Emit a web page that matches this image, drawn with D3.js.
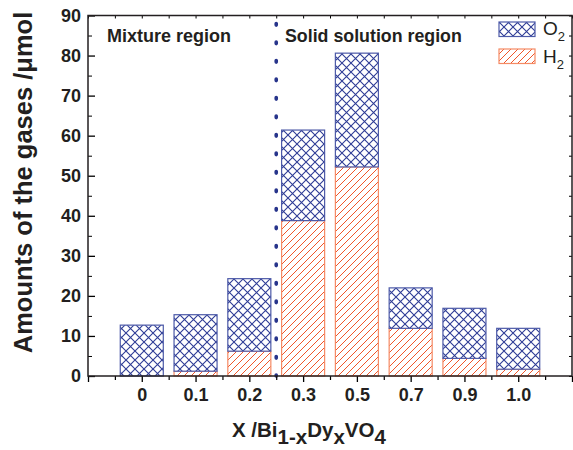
<!DOCTYPE html>
<html>
<head>
<meta charset="utf-8">
<script src="https://cdn.jsdelivr.net/npm/d3@7"></script>
<style>
  html, body { margin: 0; padding: 0; background: #fff; }
  svg { display: block; }
  text { font-family: "Liberation Sans", Arial, Helvetica, sans-serif; fill: #231f20; }
</style>
</head>
<body>
<svg id="chart" width="573" height="450"></svg>
<script>
// ---- data ----
const categories = ["0", "0.1", "0.2", "0.3", "0.5", "0.7", "0.9", "1.0"];
const h2Values = [0, 1.2, 6.2, 38.8, 52.2, 11.9, 4.4, 1.7];
const o2Values = [12.7, 14.1, 18.1, 22.6, 28.4, 10.1, 12.5, 10.2];
const yTickValues = [0, 10, 20, 30, 40, 50, 60, 70, 80, 90];
const seriesNames = ["O", "H"];

// ---- layout ----
const mLeft = 88, mRight = 572, mTop = 15.5, mBottom = 376;
const svg = d3.select("#chart");

const x = d3.scaleLinear().domain([0, categories.length + 1]).range([mLeft, mRight]);
const y = d3.scaleLinear().domain([0, 90]).range([mBottom, mTop]);
const barW = x(0.8) - x(0);

const blue = "#2e3c96";
const orange = "#f0562a";
const tickFont = 18;

// ---- patterns ----
const defs = svg.append("defs");
const cross = defs.append("pattern").attr("id", "cross")
  .attr("patternUnits", "userSpaceOnUse").attr("width", 9).attr("height", 9);
cross.append("rect").attr("width", 9).attr("height", 9).attr("fill", "#fff");
cross.append("path").attr("d", "M0,0L9,9M9,0L0,9")
  .attr("stroke", blue).attr("stroke-width", 1.1).attr("fill", "none");

const hatch = defs.append("pattern").attr("id", "hatch")
  .attr("patternUnits", "userSpaceOnUse").attr("width", 7).attr("height", 7);
hatch.append("rect").attr("width", 7).attr("height", 7).attr("fill", "#fff");
hatch.append("path").attr("d", "M-1,8L8,-1M-1,1L1,-1M6,8L8,6")
  .attr("stroke", orange).attr("stroke-width", 1).attr("fill", "none");

// ---- bars ----
const data = categories.map((c, i) => ({ c, i, h2: h2Values[i], o2: o2Values[i] }));
const g = svg.append("g");

g.selectAll("rect.h2").data(data.filter(d => d.h2 > 0)).join("rect")
  .attr("class", "h2")
  .attr("x", d => x(d.i + 1) - barW / 2)
  .attr("width", barW)
  .attr("y", d => y(d.h2))
  .attr("height", d => y(0) - y(d.h2))
  .attr("fill", "url(#hatch)")
  .attr("stroke", "#f58a64").attr("stroke-width", 1.2);

g.selectAll("rect.o2").data(data).join("rect")
  .attr("class", "o2")
  .attr("x", d => x(d.i + 1) - barW / 2)
  .attr("width", barW)
  .attr("y", d => y(d.h2 + d.o2))
  .attr("height", d => y(d.h2) - y(d.h2 + d.o2))
  .attr("fill", "url(#cross)")
  .attr("stroke", "#4d5aa8").attr("stroke-width", 1.2);

// ---- dotted divider ----
svg.append("line")
  .attr("x1", x(3.5)).attr("x2", x(3.5))
  .attr("y1", y(88)).attr("y2", y(0))
  .attr("stroke", "#27348b").attr("stroke-width", 3.6)
  .attr("stroke-linecap", "round")
  .attr("stroke-dasharray", "1.6 16.9");

// ---- axes ----
const majorX = d3.range(0, categories.length + 2);
const minorX = d3.range(0.5, categories.length + 1, 1);
const minorY = d3.range(5, 90, 10);

const bx = svg.append("g").attr("transform", `translate(0,${mBottom})`)
  .call(d3.axisBottom(x).tickValues(majorX).tickSize(6).tickPadding(6)
    .tickFormat(v => (v >= 1 && v <= categories.length) ? categories[v - 1] : ""));
bx.select(".domain").remove();
bx.selectAll("text").attr("font-size", tickFont).attr("font-weight", "bold")
  .attr("font-family", "Liberation Sans, Arial, sans-serif").attr("fill", "#231f20");
bx.selectAll("line").attr("stroke-width", 1.3);

const bxm = svg.append("g").attr("transform", `translate(0,${mBottom})`)
  .call(d3.axisBottom(x).tickValues(minorX).tickSize(4).tickFormat(""));
bxm.select(".domain").remove();
bxm.selectAll("line").attr("stroke-width", 1.2);

const tx = svg.append("g").attr("transform", `translate(0,${mTop})`)
  .call(d3.axisTop(x).tickValues(majorX.concat(minorX)).tickSize(-3).tickFormat(""));
tx.select(".domain").remove();

const ly = svg.append("g").attr("transform", `translate(${mLeft},0)`)
  .call(d3.axisLeft(y).tickValues(yTickValues).tickSize(-7).tickPadding(7));
ly.select(".domain").remove();
ly.selectAll("text").attr("font-size", tickFont).attr("font-weight", "bold")
  .attr("font-family", "Liberation Sans, Arial, sans-serif").attr("fill", "#231f20");
ly.selectAll("line").attr("stroke-width", 1.3);

const lym = svg.append("g").attr("transform", `translate(${mLeft},0)`)
  .call(d3.axisLeft(y).tickValues(minorY).tickSize(-4).tickFormat(""));
lym.select(".domain").remove();

const ry = svg.append("g").attr("transform", `translate(${mRight},0)`)
  .call(d3.axisRight(y).tickValues(yTickValues.concat(minorY)).tickSize(-3).tickFormat(""));
ry.select(".domain").remove();

// frame
svg.append("rect")
  .attr("x", mLeft).attr("y", mTop)
  .attr("width", mRight - mLeft).attr("height", mBottom - mTop)
  .attr("fill", "none").attr("stroke", "#231f20").attr("stroke-width", 1.5);

// ---- region labels ----
svg.append("text").attr("x", 107).attr("y", 42)
  .attr("font-size", 18).attr("font-weight", "bold").text("Mixture region");
svg.append("text").attr("x", 285).attr("y", 42)
  .attr("font-size", 17.8).attr("font-weight", "bold").text("Solid solution region");

// ---- legend ----
const legend = svg.append("g");
const legItems = [
  { name: seriesNames[0], fill: "url(#cross)", stroke: "#4d5aa8", y: 22, base: 35 },
  { name: seriesNames[1], fill: "url(#hatch)", stroke: "#f58a64", y: 49, base: 63 }
];
legItems.forEach(it => {
  legend.append("rect").attr("x", 499).attr("y", it.y).attr("width", 36).attr("height", 14.5)
    .attr("fill", it.fill).attr("stroke", it.stroke).attr("stroke-width", 1.2);
  const t = legend.append("text").attr("x", 543).attr("y", it.base).attr("font-size", 19);
  t.append("tspan").text(it.name);
  t.append("tspan").attr("font-size", 13).attr("dy", 6).text("2");
});

// ---- axis titles ----
const xt = svg.append("text").attr("x", 232).attr("y", 437)
  .attr("font-size", 20.5).attr("font-weight", "bold");
xt.append("tspan").text("X /Bi");
xt.append("tspan").attr("dy", 7).text("1-x");
xt.append("tspan").attr("dy", -7).text("Dy");
xt.append("tspan").attr("dy", 7).text("x");
xt.append("tspan").attr("dy", -7).text("VO");
xt.append("tspan").attr("dy", 7).text("4");

svg.append("text")
  .attr("transform", `translate(32,${(15 + 350) / 2}) rotate(-90)`)
  .attr("text-anchor", "middle")
  .attr("font-size", 25.5).attr("font-weight", "bold")
  .text("Amounts of the gases /\u03bcmol");
</script>
</body>
</html>
